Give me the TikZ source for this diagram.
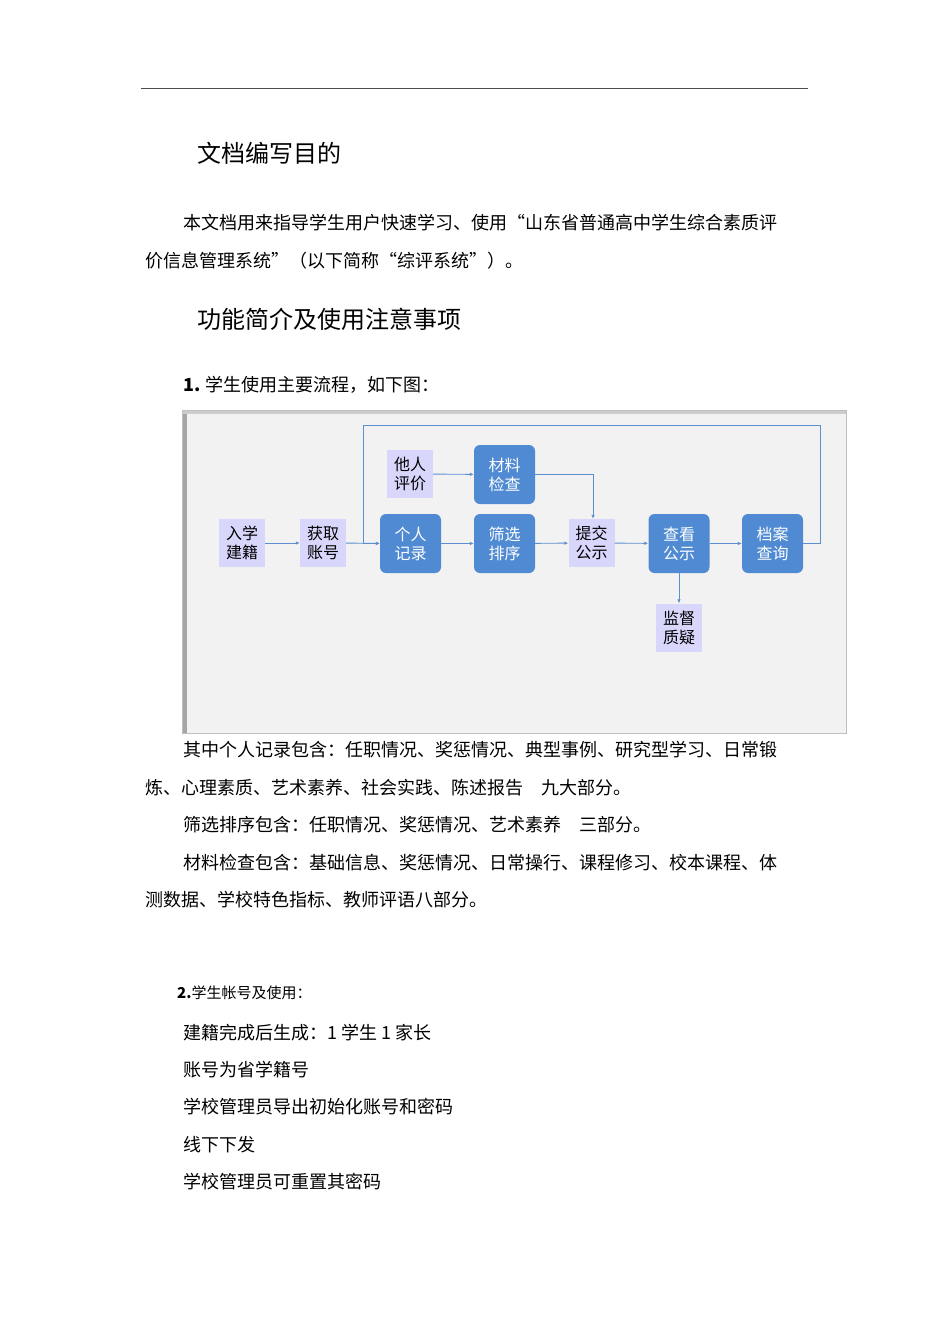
\documentclass[tikz,border=0pt]{standalone}
\usepackage{fontspec}
\newfontfamily\cjk{Noto Sans CJK SC}
\usetikzlibrary{arrows.meta}
\definecolor{bluebox}{HTML}{4F8AD2}
\definecolor{purplebox}{HTML}{D8D6FA}
\definecolor{bgc}{HTML}{F2F2F2}
\definecolor{linec}{HTML}{5B8FD0}
\begin{document}
\begin{tikzpicture}[x=1pt,y=-1pt,
  body/.style={anchor=west,inner sep=0,font=\cjk\fontsize{18}{20}\selectfont},
  head/.style={anchor=west,inner sep=0,font=\cjk\fontsize{24}{26}\selectfont},
  bbox/.style={fill=bluebox,rounded corners=6pt,text=white,minimum width=61pt,minimum height=59pt,align=center,inner sep=0,font=\cjk\fontsize{16}{19}\selectfont},
  pbox/.style={fill=purplebox,text=black,minimum width=46pt,minimum height=48pt,align=center,inner sep=0,font=\cjk\fontsize{16}{19}\selectfont},
  arr/.style={draw=linec,line width=0.9pt,-{Latex[length=4pt,width=3.5pt]}}]
\useasboundingbox (0,0) rectangle (950,1344);
\fill[white] (0,0) rectangle (950,1344);
\draw[line width=1pt,black!70] (141,88) -- (808,88);
\node[head] (h1) at (197,153) {文档编写目的};
\node[body] (t1) at (183,223) {本文档用来指导学生用户快速学习、使用“山东省普通高中学生综合素质评};
\node[body] (t2) at (145,261) {价信息管理系统”（以下简称“综评系统”）。};
\node[head] (h2) at (197,319) {功能简介及使用注意事项};
\node[body] (t3) at (183,385) {\textbf{1.} 学生使用主要流程，如下图：};
% diagram frame
\fill[bgc] (182,410) rectangle (846,733);
\fill[black!35] (182,410) rectangle (187,733);
\fill[black!20] (182,410) rectangle (846,414);
\draw[black!25,line width=0.5pt] (182,410) rectangle (846,733);
\node[pbox] (a) at (242,543) {入学\\建籍};
\node[pbox] (b) at (323,543) {获取\\账号};
\node[bbox] (c) at (410.5,543.5) {个人\\记录};
\node[bbox] (d) at (504.5,543.5) {筛选\\排序};
\node[pbox] (e) at (591.5,543) {提交\\公示};
\node[bbox] (f) at (679,543.5) {查看\\公示};
\node[bbox] (g) at (772.5,543.5) {档案\\查询};
\node[pbox] (p) at (410,474) {他人\\评价};
\node[bbox] (m) at (504.5,474.5) {材料\\检查};
\node[pbox] (s) at (679,627.5) {监督\\质疑};
\draw[arr] (a) -- (b);
\draw[arr] (b) -- (c);
\draw[arr] (c) -- (d);
\draw[arr] (d) -- (e);
\draw[arr] (e) -- (f);
\draw[arr] (f) -- (g);
\draw[arr] (f) -- (s);
\draw[arr] (p) -- (m);
\draw[arr] (m.east) -- (593,474.5) -- (e.north -| 593,0);
\draw[arr] (g.east) -- (820,543.5) -- (820,425) -- (363,425) -- (363,543.5) -- (c.west);
% text below
\node[body] (t4) at (183,750) {其中个人记录包含：任职情况、奖惩情况、典型事例、研究型学习、日常锻};
\node[body] (t5) at (145,788) {炼、心理素质、艺术素养、社会实践、陈述报告\quad 九大部分。};
\node[body] (t6) at (183,825) {筛选排序包含：任职情况、奖惩情况、艺术素养\quad 三部分。};
\node[body] (t7) at (183,863) {材料检查包含：基础信息、奖惩情况、日常操行、课程修习、校本课程、体};
\node[body] (t8) at (145,900) {测数据、学校特色指标、教师评语八部分。};
\node[anchor=west,inner sep=0,font=\cjk\fontsize{15}{17}\selectfont] (t9) at (177,993) {\textbf{2.}学生帐号及使用：};
\node[body] (t10) at (183,1033) {建籍完成后生成：1 学生 1 家长};
\node[body] (t11) at (183,1070) {账号为省学籍号};
\node[body] (t12) at (183,1107) {学校管理员导出初始化账号和密码};
\node[body] (t13) at (183,1145) {线下下发};
\node[body] (t14) at (183,1182) {学校管理员可重置其密码};
\end{tikzpicture}
\end{document}
